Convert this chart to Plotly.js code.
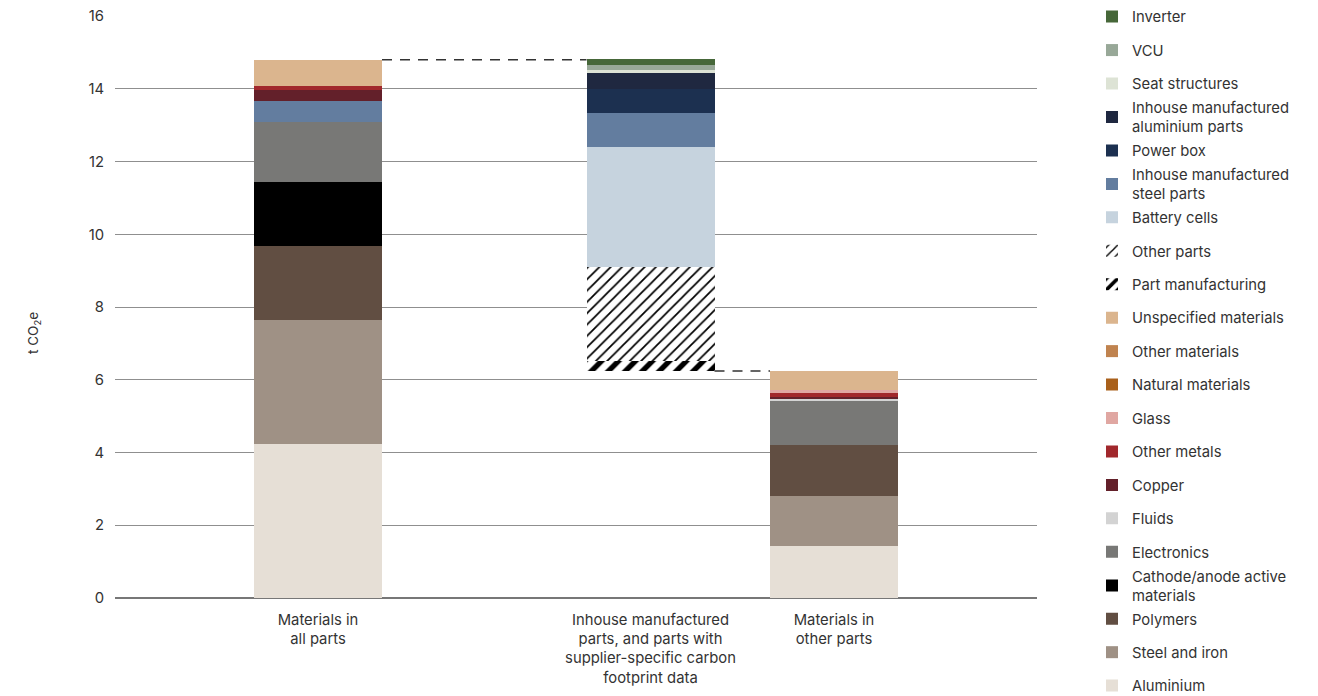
<!DOCTYPE html>
<html>
<head>
<meta charset="utf-8">
<script src="https://cdn.plot.ly/plotly-3.0.1.min.js"></script>
<style>html,body{margin:0;padding:0;background:#fff;}#chart{width:1318px;height:696px;}</style>
</head>
<body>
<div id="chart"></div>
<script>
// ---- data ----
const categories = [
  'Materials in<br>all parts',
  'Inhouse manufactured<br>parts, and parts with<br>supplier-specific carbon<br>footprint data',
  'Materials in<br>other parts'
];
// values per bar: [materials in all parts, inhouse/supplier-specific parts, materials in other parts]
const aluminium      = [4.23, 0, 1.43];
const steelIron      = [3.41, 0, 1.37];
const polymers       = [2.03, 0, 1.40];
const cathodeAnode   = [1.76, 0, 0];
const electronics    = [1.67, 0, 1.23];
const blueBand       = [0.58, 0, 0];
const fluids         = [0, 0, 0.05];
const copper         = [0.29, 0, 0.06];
const otherMetals    = [0.12, 0, 0.10];
const glass          = [0, 0, 0.09];
const naturalMat     = [0, 0, 0];
const otherMat       = [0, 0, 0];
const unspecified    = [0.71, 0, 0.51];
const partManuf      = [0, 0.27, 0];
const otherParts     = [0, 2.60, 0];
const batteryCells   = [0, 3.30, 0];
const steelParts     = [0, 0.93, 0];
const powerBox       = [0, 0.66, 0];
const aluParts       = [0, 0.43, 0];
const seatStructures = [0, 0.08, 0];
const vcu            = [0, 0.16, 0];
const inverter       = [0, 0.16, 0];
const yTicks = [0, 2, 4, 6, 8, 10, 12, 14, 16];

// ---- layout constants ----
const barPositions = [2.03, 5.355, 7.19];
const barWidth = 1.28;
const font = 'Inter, "Open Sans", sans-serif';
const textColor = '#333333';
const fs = 14.8;

const sum = (arrs, i) => arrs.reduce((s, a) => s + a[i], 0);
const materialSeries = [aluminium, steelIron, polymers, cathodeAnode, electronics, blueBand, fluids, copper, otherMetals, glass, naturalMat, otherMat, unspecified];
const leftTotal = sum(materialSeries, 0);
const rightTotal = sum(materialSeries, 2);
const floatBase = [0, rightTotal, 0];

// stacking order bottom -> top
const series = [
  {name: 'base', y: floatBase, color: 'rgba(0,0,0,0)', hidden: true},
  {name: 'Aluminium', y: aluminium, color: '#e6dfd6'},
  {name: 'Steel and iron', y: steelIron, color: '#9f9185'},
  {name: 'Polymers', y: polymers, color: '#614e42'},
  {name: 'Cathode/anode active<br>materials', y: cathodeAnode, color: '#000000'},
  {name: 'Electronics', y: electronics, color: '#787876'},
  {name: 'Inhouse manufactured steel parts ', y: blueBand, color: '#637d9f', hidden: true},
  {name: 'Fluids', y: fluids, color: '#d3d3d3'},
  {name: 'Copper', y: copper, color: '#63202a'},
  {name: 'Other metals', y: otherMetals, color: '#a1282c'},
  {name: 'Glass', y: glass, color: '#e0a7a2'},
  {name: 'Natural materials', y: naturalMat, color: '#a9601b'},
  {name: 'Other materials', y: otherMat, color: '#c0834f'},
  {name: 'Unspecified materials', y: unspecified, color: '#dbb58e'},
  {name: 'Part manufacturing', y: partManuf, color: '#ffffff', pattern: {shape: '/', size: 12, solidity: 0.45, fgcolor: '#000', bgcolor: '#fff'}},
  {name: 'Other parts', y: otherParts, color: '#ffffff', pattern: {shape: '/', size: 8, solidity: 0.22, fgcolor: '#000', bgcolor: '#fff'}},
  {name: 'Battery cells', y: batteryCells, color: '#c6d3de'},
  {name: 'Inhouse manufactured<br>steel parts', y: steelParts, color: '#637d9f'},
  {name: 'Power box', y: powerBox, color: '#1c3050'},
  {name: 'Inhouse manufactured<br>aluminium parts', y: aluParts, color: '#1f2840'},
  {name: 'Seat structures', y: seatStructures, color: '#dde3d5'},
  {name: 'VCU', y: vcu, color: '#98a898'},
  {name: 'Inverter', y: inverter, color: '#466739'}
];

const legendOrder = ['Inverter', 'VCU', 'Seat structures', 'Inhouse manufactured<br>aluminium parts', 'Power box',
  'Inhouse manufactured<br>steel parts', 'Battery cells', 'Other parts', 'Part manufacturing', 'Unspecified materials',
  'Other materials', 'Natural materials', 'Glass', 'Other metals', 'Copper', 'Fluids', 'Electronics',
  'Cathode/anode active<br>materials', 'Polymers', 'Steel and iron', 'Aluminium'];

// plot area in pixels
const plotL = 115, plotR = 1037, plotT = 16, plotB = 598;
const plotW = plotR - plotL, plotH = plotB - plotT;

const layout = {
  width: 1318, height: 696,
  margin: {l: plotL, r: 1318 - plotR, t: plotT, b: 696 - plotB, pad: 0, autoexpand: false},
  paper_bgcolor: '#fff', plot_bgcolor: '#fff',
  barmode: 'stack', bargap: 0,
  font: {family: font, size: fs, color: textColor},
  xaxis: {
    range: [0, plotW / 100], tickvals: barPositions, ticktext: categories,
    showgrid: false, zeroline: false, showline: false, ticks: '',
    ticklabelstandoff: 11, tickfont: {family: font, size: fs, color: textColor}, fixedrange: true
  },
  yaxis: {
    range: [0, 16.006], tickvals: yTicks, ticktext: yTicks.map(String),
    showgrid: true, gridcolor: '#8f8f8f', gridwidth: 1,
    zeroline: true, zerolinecolor: '#777777', zerolinewidth: 2,
    showline: false, ticks: '', ticklabelstandoff: 10,
    tickfont: {family: font, size: fs, color: textColor}, fixedrange: true
  },
  showlegend: true,
  annotations: [{
    text: 't CO<sub>2</sub>e', xref: 'paper', yref: 'paper',
    x: (34 - plotL) / plotW, y: (plotB - 333) / plotH, textangle: -90,
    showarrow: false, xanchor: 'center', yanchor: 'middle',
    font: {family: font, size: 13.5, color: textColor}
  }],
  shapes: [
    {type: 'line', xref: 'x', yref: 'y',
     x0: barPositions[0] + barWidth / 2, x1: barPositions[1] - barWidth / 2, y0: leftTotal, y1: leftTotal,
     line: {color: '#333', width: 1.5, dash: '10px,8px'}},
    {type: 'line', xref: 'x', yref: 'y',
     x0: barPositions[1] + barWidth / 2, x1: barPositions[2] - barWidth / 2, y0: rightTotal, y1: rightTotal,
     line: {color: '#333', width: 1.5, dash: '10px,8px'}}
  ]
};

const legendLeftPx = 1092;
const traces = series.map(s => {
  const t = {
    type: 'bar', name: s.name, x: barPositions, y: s.y, width: barWidth,
    marker: {color: s.color, line: {width: 0}},
    hoverinfo: s.hidden ? 'skip' : 'name+y'
  };
  if (s.pattern) t.marker.pattern = s.pattern;
  if (s.hidden) {
    t.showlegend = false;
  } else {
    const idx = legendOrder.indexOf(s.name);
    const key = idx === 0 ? 'legend' : 'legend' + (idx + 1);
    t.legend = key;
    const cy = 17 + idx * 33.45;
    layout[key] = {
      x: (legendLeftPx - plotL) / plotW, y: (plotB - cy) / plotH,
      xanchor: 'left', yanchor: 'middle', bgcolor: 'rgba(0,0,0,0)', borderwidth: 0,
      font: {family: font, size: fs, color: textColor}
    };
  }
  return t;
});

Plotly.newPlot('chart', traces, layout, {displayModeBar: false});
</script>
</body>
</html>
